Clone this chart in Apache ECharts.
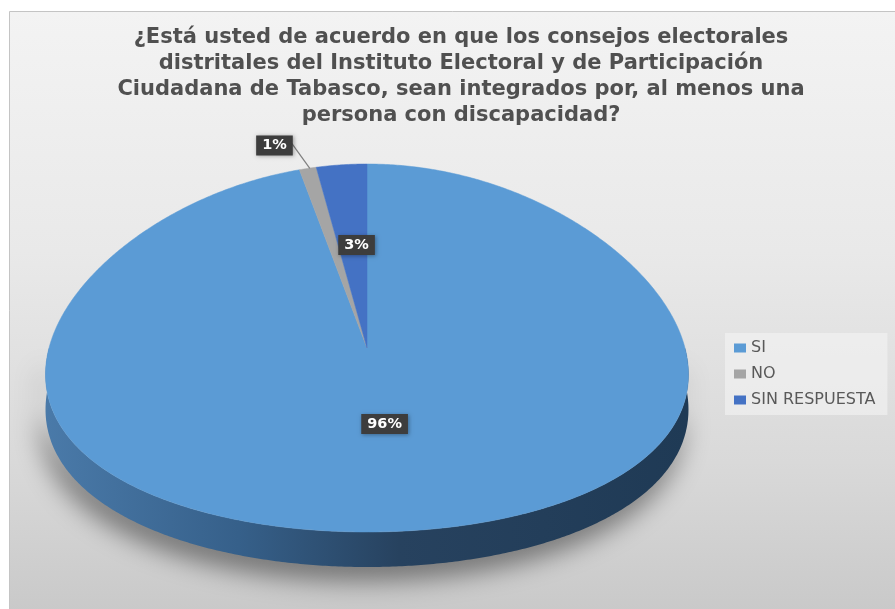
<!DOCTYPE html>
<html><head><meta charset="utf-8">
<script src="https://cdn.jsdelivr.net/npm/echarts@6/dist/echarts.min.js"></script>
<style>html,body{margin:0;padding:0;background:#fff}#c{width:895px;height:609px}</style>
</head><body><div id="c"></div>
<script>
// ---- data ----
const titleText = '¿Está usted de acuerdo en que los consejos electorales\ndistritales del Instituto Electoral y de Participación\nCiudadana de Tabasco, sean integrados por, al menos una\npersona con discapacidad?';
const categories = ['SI', 'NO', 'SIN RESPUESTA'];
const values = [96, 1, 3];

// ---- style ----
const colors = ['#5B9BD5', '#A5A5A5', '#4472C4'];
const CX = 367, CY = 348, RX = 318, RY = 184, DEPTH = 35, K = 0.15;

function pt(deg, dz) {
  const r = deg * Math.PI / 180;
  const u = Math.sin(r), w = -Math.cos(r);
  const s = 1 + K * w;
  return [CX + RX * u * s, CY + RY * w + dz];
}
function inner(deg, f) {
  const r = deg * Math.PI / 180;
  const u = Math.sin(r) * f, w = -Math.cos(r) * f;
  const s = 1 + K * w;
  return [CX + RX * u * s, CY + RY * w];
}
function arc(a0, a1, dz) {
  const pts = [];
  const n = Math.max(2, Math.ceil((a1 - a0) / 0.5));
  for (let i = 0; i <= n; i++) pts.push(pt(a0 + (a1 - a0) * i / n, dz));
  return pts;
}

function makeRender(idx) {
  return function (params, api) {
    const total = values.reduce((a, b) => a + b, 0);
    let before = 0;
    for (let j = 0; j < idx; j++) before += values[j];
    const v = api.value(0);
    const a0 = before / total * 360, a1 = (before + v) / total * 360;
    const children = [];
    const lo = Math.max(a0, 90), hi = Math.min(a1, 270);
    if (lo < hi) {
      const top = arc(lo, hi, 0);
      const bot = arc(lo, hi, DEPTH).reverse();
      children.push({
        type: 'polygon', shape: { points: top.concat(bot) },
        style: {
          fill: new echarts.graphic.LinearGradient(0, 0, 1, 0, [
            { offset: 0, color: '#4a7aa9' }, { offset: 0.3, color: '#36608a' },
            { offset: 0.55, color: '#27425f' }, { offset: 1, color: '#1f3a55' }]),
          shadowBlur: 26, shadowOffsetY: 14, shadowOffsetX: -5, shadowColor: 'rgba(0,0,0,0.45)'
        }
      });
    }
    children.push({
      type: 'polygon', shape: { points: [[CX, CY]].concat(arc(a0, a1, 0)) },
      style: { fill: colors[idx], stroke: colors[idx], lineWidth: 0.5 }
    });
    const share = v / total;
    const txt = Math.round(share * 100) + '%';
    const mid = (a0 + a1) / 2;
    const boxStyle = {
      fill: '#fff', backgroundColor: '#3d3d3d', padding: [3, 6, 2, 6],
      font: 'bold 14.5px "DejaVu Sans", sans-serif',
      shadowBlur: 4, shadowColor: 'rgba(0,0,0,0.35)', shadowOffsetX: 1, shadowOffsetY: 1
    };
    if (share < 0.02) {
      const A = pt(mid, 0);
      const B = [A[0] - 16, A[1] - 25];
      children.push({ type: 'line', shape: { x1: A[0] + 2, y1: A[1], x2: B[0], y2: B[1] },
        style: { stroke: '#7f7f7f', lineWidth: 1.2 } });
      children.push({ type: 'text', x: B[0] + 1, y: B[1] + 2,
        style: Object.assign({ text: txt, align: 'right', verticalAlign: 'middle' }, boxStyle) });
    } else {
      const f = share > 0.5 ? 0.416 : 0.5625;
      const p = inner(mid, f);
      children.push({ type: 'text', x: p[0] + (share > 0.5 ? 0 : 5), y: p[1],
        style: Object.assign({ text: txt, align: 'center', verticalAlign: 'middle' }, boxStyle) });
    }
    return { type: 'group', children: children };
  };
}

const chart = echarts.init(document.getElementById('c'), null, { renderer: 'canvas' });
chart.setOption({
  animation: false,
  graphic: [{
    type: 'rect', z: -10, silent: true,
    shape: { x: 9.5, y: 11.5, width: 890, height: 600 },
    style: {
      fill: new echarts.graphic.LinearGradient(0, 0, 0, 1, [
        { offset: 0, color: '#f3f3f3' }, { offset: 0.4, color: '#e9e9e9' },
        { offset: 0.75, color: '#d9d9d9' }, { offset: 1, color: '#c9c9c9' }]),
      stroke: '#c4c4c4', lineWidth: 1
    }
  }],
  title: {
    text: titleText, left: 456, top: 20, textAlign: 'center',
    textStyle: { fontFamily: 'DejaVu Sans', fontWeight: 'bold', fontSize: 21, color: '#505050', lineHeight: 26 }
  },
  legend: {
    orient: 'vertical', left: 725, top: 333, padding: [7, 12, 7, 9], itemGap: 10,
    itemWidth: 12, itemHeight: 9, icon: 'rect', backgroundColor: 'rgba(245,245,245,0.55)',
    textStyle: { fontFamily: 'DejaVu Sans', fontSize: 16, color: '#595959', lineHeight: 16 },
    data: categories
  },
  series: categories.map((name, i) => ({
    type: 'custom', name: name, coordinateSystem: 'none',
    itemStyle: { color: colors[i] },
    renderItem: makeRender(i),
    data: [[values[i]]]
  }))
});
</script></body></html>
